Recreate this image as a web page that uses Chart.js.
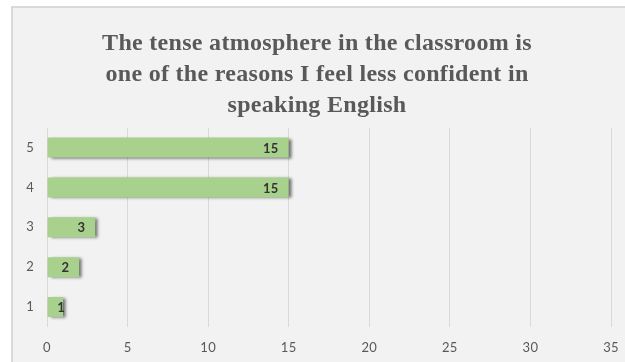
<!DOCTYPE html>
<html>
<head>
<meta charset="utf-8">
<script src="https://cdn.jsdelivr.net/npm/chart.js@4/dist/chart.umd.min.js"></script>
<style>
  html, body { margin: 0; padding: 0; background: #ffffff; }
  #wrap { position: absolute; left: 0; top: 0; width: 625px; height: 362px; }
</style>
</head>
<body>
<div id="wrap"><canvas id="c" width="625" height="362"></canvas></div>
<script>
const titleLines = ["The tense atmosphere in the classroom is", "one of the reasons I feel less confident in", "speaking English"];
const categories = ["1", "2", "3", "4", "5"];
const values = [1, 2, 3, 15, 15];
const xTicks = [0, 5, 10, 15, 20, 25, 30, 35];

const frame = {
  id: 'frame',
  beforeDraw(chart) {
    const ctx = chart.ctx;
    ctx.save();
    ctx.fillStyle = '#ffffff';
    ctx.fillRect(0, 0, chart.width, chart.height);
    ctx.fillStyle = '#f2f2f2';
    ctx.fillRect(12, 7, chart.width - 12, chart.height - 7);
    ctx.strokeStyle = '#d9d9d9';
    ctx.lineWidth = 2;
    ctx.beginPath();
    ctx.moveTo(12, chart.height);
    ctx.lineTo(12, 7);
    ctx.lineTo(chart.width, 7);
    ctx.stroke();
    ctx.restore();
    ctx.letterSpacing = '0.3px';
  }
};

const shadow = {
  id: 'shadow',
  beforeDatasetsDraw(chart) {
    const ctx = chart.ctx;
    ctx.save();
    ctx.shadowColor = 'rgba(0,0,0,0.55)';
    ctx.shadowBlur = 3;
    ctx.shadowOffsetX = 3;
    ctx.shadowOffsetY = 1;
  },
  afterDatasetsDraw(chart) {
    chart.ctx.restore();
    const ctx = chart.ctx;
    const meta = chart.getDatasetMeta(0);
    const base = chart.scales.x.getPixelForValue(0);
    ctx.save();
    ctx.font = 'bold 13px Lato, "Open Sans", sans-serif';
    ctx.fillStyle = '#333333';
    ctx.textBaseline = 'middle';
    ctx.textAlign = 'center';
    meta.data.forEach((bar, i) => {
      const txt = String(values[i]);
      const w = ctx.measureText(txt).width;
      let cx = bar.x - 10 - w / 2;
      if (cx - w / 2 < base + 4) cx = bar.x - 2;
      ctx.fillText(txt, cx, bar.y + 1);
    });
    ctx.restore();
  }
};

new Chart(document.getElementById('c'), {
  type: 'bar',
  data: {
    labels: categories,
    datasets: [{
      data: values,
      backgroundColor: '#a9d18e',
      borderWidth: 0,
      categoryPercentage: 1,
      barPercentage: 0.5
    }]
  },
  options: {
    indexAxis: 'y',
    responsive: false,
    animation: false,
    devicePixelRatio: 1,
    layout: { padding: { left: 12, right: 3, top: 7, bottom: 0 } },
    plugins: {
      legend: { display: false },
      tooltip: { enabled: false },
      title: {
        display: true,
        text: titleLines,
        color: '#595959',
        font: { family: '"Liberation Serif", "Times New Roman", serif', size: 24, weight: 'bold', lineHeight: 1.3 },
        padding: { top: 21, bottom: 6 }
      }
    },
    scales: {
      x: {
        min: 0, max: 35,
        afterBuildTicks(scale) { scale.ticks = xTicks.map(v => ({ value: v })); },
        afterFit(scale) { scale.height = 35; scale.paddingLeft = 0; scale.paddingRight = 14; },
        grid: { color: '#d9d9d9', lineWidth: 1, drawTicks: false },
        border: { display: false },
        ticks: { color: '#595959', font: { family: 'Lato, "Open Sans", sans-serif', size: 13 }, padding: 13 }
      },
      y: {
        reverse: true,
        afterFit(scale) { scale.width = 35; },
        grid: { display: false, drawTicks: false },
        border: { display: false },
        ticks: { color: '#595959', font: { family: 'Lato, "Open Sans", sans-serif', size: 13 }, padding: 13 }
      }
    }
  },
  plugins: [frame, shadow]
});
</script>
</body>
</html>
